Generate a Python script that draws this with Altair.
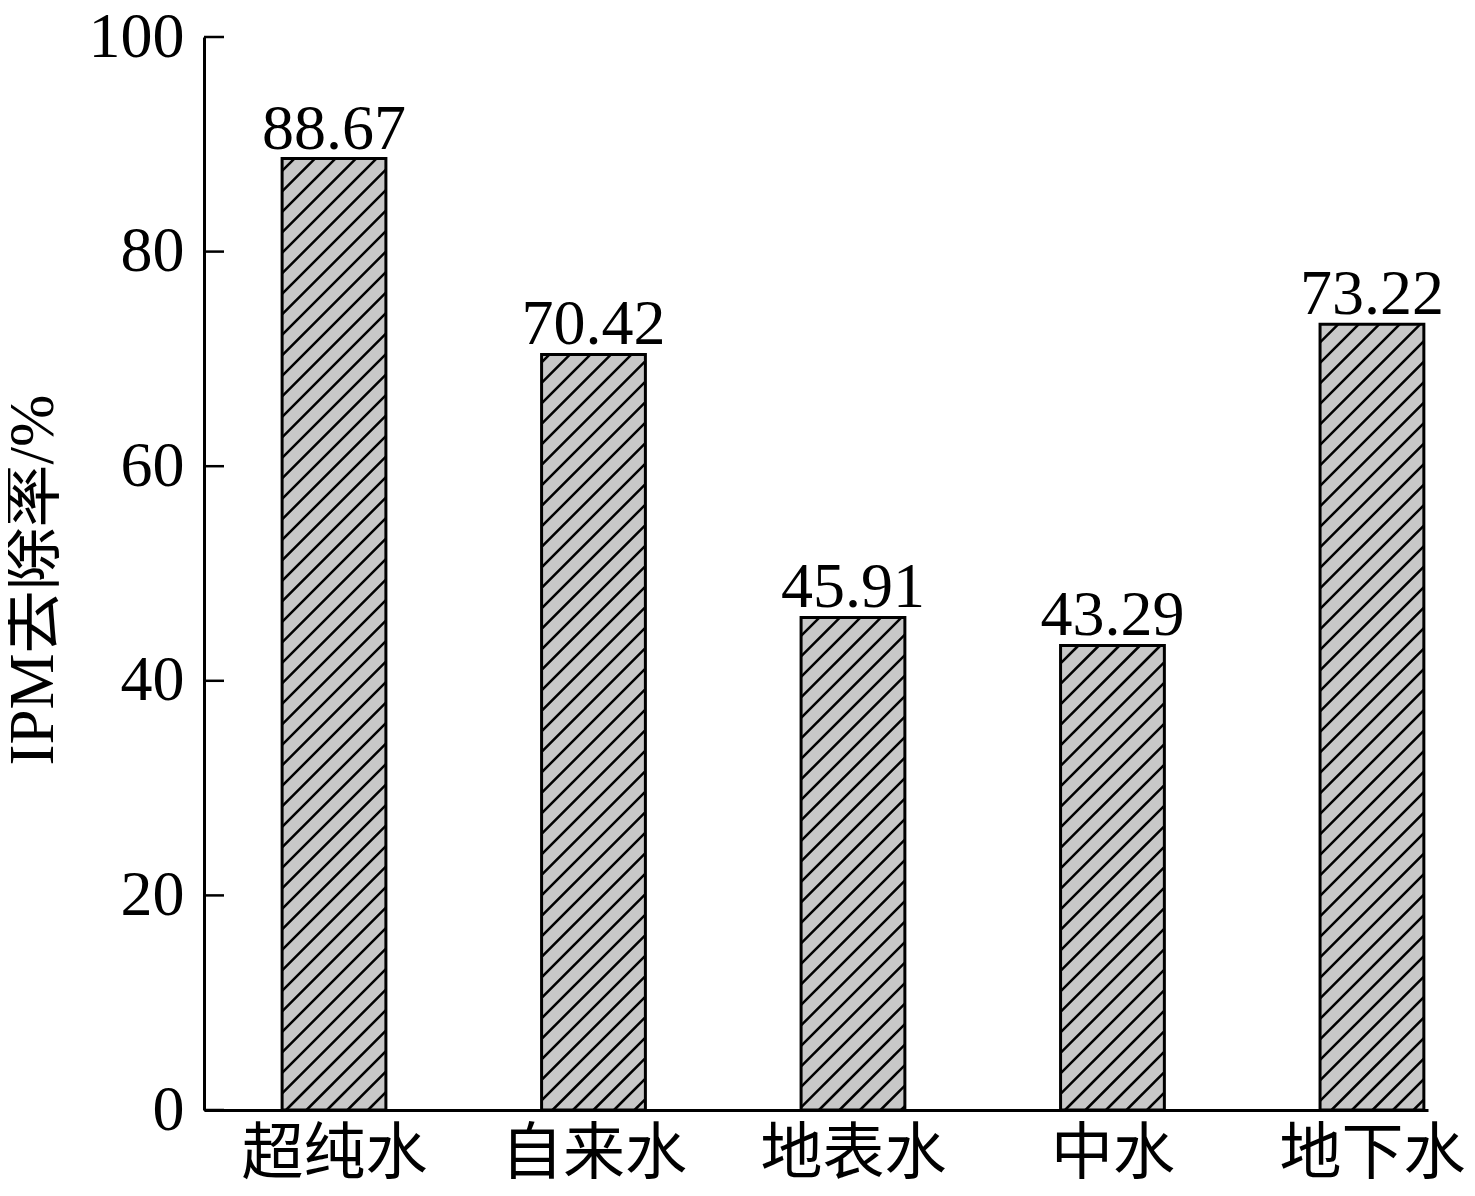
import json
import math
import altair as alt
import pandas as pd

# ---- data ----
categories = ["超纯水", "自来水", "地表水", "中水", "地下水"]
values = [88.67, 70.42, 45.91, 43.29, 73.22]
y_ticks = [0, 20, 40, 60, 80, 100]

# ---- layout / style ----
W, H = 1224, 1073
X_DOMAIN = [-0.501, 4.216]
Y_DOMAIN = [0, 100]
HALF = 0.2            # half bar width in x units
HATCH_STEP = 20.5     # hatch spacing (px, horizontal)
SERIF = "Liberation Serif, Noto Sans CJK SC"
CJK = "Noto Sans CJK SC"
GRAY = "#c8c8c8"

kx = W / (X_DOMAIN[1] - X_DOMAIN[0])
ky = H / (Y_DOMAIN[1] - Y_DOMAIN[0])

bars = pd.DataFrame({"pos": list(range(len(categories))), "cat": categories, "value": values})
bars["x0"] = bars["pos"] - HALF
bars["x1"] = bars["pos"] + HALF
bars["base"] = 0

# hatch segments derived from the bar rectangles (pattern fill emulation)
segs = []
for i, v in enumerate(values):
    X0 = (i - HALF - X_DOMAIN[0]) * kx
    X1 = (i + HALF - X_DOMAIN[0]) * kx
    Y1 = v * ky
    n0 = math.floor((X0 - Y1) / HATCH_STEP) - 1
    n1 = math.ceil(X1 / HATCH_STEP) + 1
    for n in range(n0, n1 + 1):
        c = n * HATCH_STEP
        ylo = max(0.0, X0 - c)
        yhi = min(Y1, X1 - c)
        if yhi > ylo:
            segs.append({
                "hx": (ylo + c) / kx + X_DOMAIN[0], "hy": ylo / ky,
                "hx2": (yhi + c) / kx + X_DOMAIN[0], "hy2": yhi / ky,
            })
hatch = pd.DataFrame(segs)
ticks = pd.DataFrame({"t": y_ticks})

xscale = alt.Scale(domain=X_DOMAIN, nice=False, zero=False)
yscale = alt.Scale(domain=Y_DOMAIN, nice=False)

label_expr = json.dumps(categories, ensure_ascii=False) + "[datum.value]"

x_axis = alt.Axis(
    values=list(range(len(categories))), labelExpr=label_expr, ticks=False, grid=False,
    domainWidth=3, domainColor="black", labelFont=CJK, labelFontSize=62,
    labelColor="black", labelPadding=14, labelFlush=False, labelLimit=1000,
    labelOverlap=False, title=None, zindex=1,
)
y_axis = alt.Axis(
    values=y_ticks, ticks=False, grid=False, domainWidth=3, domainColor="black",
    labelFont="Liberation Serif", labelFontSize=64, labelColor="black", labelPadding=20,
    title="IPM去除率/%", titleFont=SERIF, titleFontSize=63, titleFontWeight="normal",
    titleColor="black", titleAngle=-90, titleX=-171, titleY=H / 2 + 6,
    titleAlign="center", titleBaseline="middle", titleLimit=1000, zindex=1,
)

fill_rect = alt.Chart(bars).mark_rect(fill=GRAY).encode(
    x=alt.X("x0:Q", scale=xscale, axis=x_axis),
    x2="x1:Q",
    y=alt.Y("value:Q", scale=yscale, axis=y_axis),
    y2="base:Q",
)
hatch_layer = alt.Chart(hatch).mark_rule(color="black", strokeWidth=2.5).encode(
    x=alt.X("hx:Q", scale=xscale, axis=x_axis),
    x2="hx2:Q",
    y=alt.Y("hy:Q", scale=yscale, axis=y_axis),
    y2="hy2:Q",
)
outline = alt.Chart(bars).mark_rect(fillOpacity=0, stroke="black", strokeWidth=3).encode(
    x=alt.X("x0:Q", scale=xscale, axis=x_axis),
    x2="x1:Q",
    y=alt.Y("value:Q", scale=yscale, axis=y_axis),
    y2="base:Q",
)
labels = alt.Chart(bars).mark_text(
    font="Liberation Serif", fontSize=64, color="black", baseline="alphabetic", dy=-10
).encode(
    x=alt.X("pos:Q", scale=xscale, axis=x_axis),
    y=alt.Y("value:Q", scale=yscale, axis=y_axis),
    text=alt.Text("value:Q", format=".2f"),
)
tick_layer = alt.Chart(ticks).mark_rule(color="black", strokeWidth=2.5).encode(
    x=alt.value(0), x2=alt.value(20),
    y=alt.Y("t:Q", scale=yscale, axis=y_axis),
)

chart = alt.layer(
    fill_rect, hatch_layer, outline, labels, tick_layer
).properties(
    width=W, height=H,
    autosize=alt.AutoSizeParams(type="none"),
    padding={"left": 196, "top": 29, "right": 37, "bottom": 78},
    background="white",
).configure_view(strokeWidth=0)

chart.save("out.html", embed_options={"renderer": "svg", "actions": False})
